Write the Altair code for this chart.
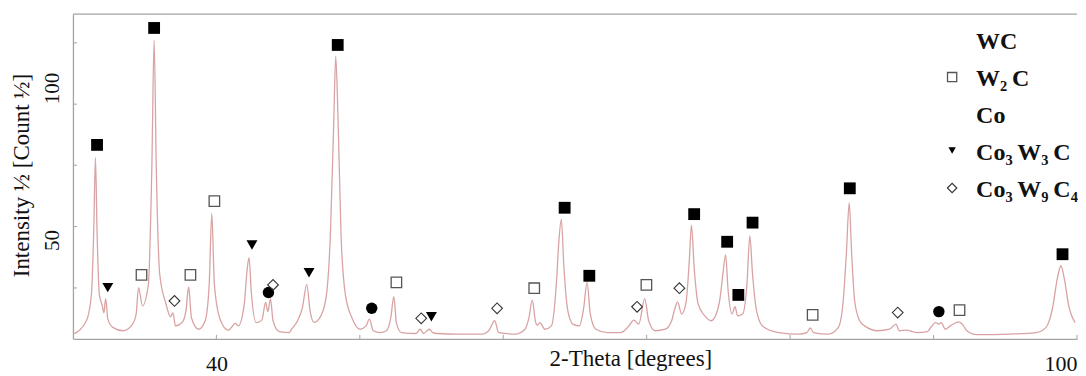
import altair as alt
import pandas as pd

# ---------------- data ----------------
two_theta = [30.02, 30.94, 31.29, 31.45, 31.57, 31.68, 31.84, 32.05, 32.16, 32.28,
             32.43, 32.78, 33.47, 34.16, 34.41, 34.57, 34.85, 35.26, 35.50, 35.66,
             35.81, 36.05, 36.46, 36.81, 36.97, 37.15, 37.61, 37.88, 38.07, 38.26,
             38.76, 39.22, 39.50, 39.68, 39.86, 40.26, 40.83, 41.33, 41.52, 41.93,
             42.16, 42.28, 42.43, 42.78, 43.17, 43.43, 43.59, 43.77, 43.95, 44.39,
             45.08, 45.24, 45.66, 46.00, 46.30, 46.53, 46.81, 47.15, 47.61, 47.95,
             48.19, 48.32, 48.48, 48.69, 48.99, 49.45, 50.02, 50.43, 50.67, 50.94,
             51.40, 51.86, 52.16, 52.37, 52.55, 52.90, 53.93, 54.21, 54.43, 54.85,
             55.08, 55.38, 56.92, 58.53, 58.99, 59.40, 59.68, 60.83, 61.52, 61.79,
             62.02, 62.26, 62.38, 62.55, 62.90, 63.36, 63.70, 63.88, 64.05, 64.23,
             64.50, 64.85, 65.31, 65.61, 65.84, 66.07, 66.46, 67.26, 68.19, 68.76,
             69.10, 69.45, 69.86, 70.14, 70.60, 71.29, 71.74, 71.98, 72.16, 72.43,
             72.74, 72.97, 73.12, 73.31, 73.59, 74.05, 74.50, 74.85, 75.12, 75.31,
             75.50, 75.68, 75.95, 76.16, 76.34, 76.69, 76.99, 77.19, 77.38, 77.66,
             78.07, 79.22, 80.60, 81.17, 81.40, 81.63, 82.67, 83.36, 83.70, 83.93,
             84.12, 84.28, 84.50, 84.85, 85.19, 86.12, 86.92, 87.38, 87.61, 88.07,
             88.88, 89.57, 89.84, 90.14, 90.37, 90.53, 90.83, 91.17, 91.57, 91.74,
             92.09, 92.32, 93.01, 95.31, 97.15, 97.84, 98.30, 98.64, 98.88, 99.10,
             99.45, 99.86]
intensity = [19.0, 23.4, 32.1, 53.0, 77.1, 53.0, 32.1, 28.3, 26.0, 30.7,
             24.0, 21.2, 20.1, 22.3, 25.7, 34.3, 28.3, 35.4, 73.8, 115.7,
             73.8, 38.7, 29.4, 24.7, 26.0, 21.7, 22.8, 26.7, 34.5, 24.4,
             20.6, 23.4, 35.4, 58.7, 35.4, 23.9, 20.3, 22.5, 21.7, 28.3,
             40.9, 44.2, 33.2, 22.8, 23.6, 29.4, 26.4, 30.7, 23.4, 19.8,
             19.5, 20.6, 23.4, 27.7, 35.4, 26.7, 22.8, 23.9, 29.9, 51.9,
             90.2, 110.5, 90.2, 51.9, 32.1, 24.4, 20.6, 21.7, 23.9, 20.1,
             19.5, 20.1, 24.4, 31.3, 22.8, 19.5, 19.2, 20.6, 19.2, 20.6,
             19.5, 19.2, 19.0, 19.0, 20.1, 23.4, 19.5, 19.0, 20.6, 24.4,
             30.2, 22.8, 21.9, 22.8, 20.6, 21.7, 35.4, 49.7, 56.8, 40.9,
             26.7, 22.3, 21.7, 27.7, 36.0, 25.6, 20.6, 19.5, 19.5, 21.7,
             23.6, 22.3, 30.7, 23.4, 20.1, 20.6, 23.4, 27.7, 29.6, 25.6,
             29.4, 43.1, 54.9, 40.9, 28.9, 25.0, 23.4, 25.6, 31.0, 38.7,
             45.1, 33.2, 25.6, 28.0, 25.0, 25.6, 35.4, 51.3, 38.7, 26.7,
             21.7, 19.5, 19.0, 19.5, 21.0, 19.5, 19.0, 21.2, 29.9, 46.4,
             62.3, 46.4, 29.9, 23.4, 21.7, 20.1, 20.6, 22.3, 20.1, 20.3,
             19.5, 19.8, 21.4, 22.8, 22.3, 22.8, 20.6, 21.7, 22.8, 23.0,
             21.7, 20.1, 18.8, 19.0, 19.5, 21.2, 27.7, 37.6, 41.5, 37.6,
             27.7, 22.8]

# peak markers of each phase (2-theta, intensity)
wc_x = [31.68, 35.66, 48.46, 64.28, 66.00, 73.31, 75.61, 76.39, 77.38, 84.16, 98.99]
wc_y = [81.3, 119.8, 114.2, 60.6, 38.2, 58.5, 49.4, 31.9, 55.7, 67.0, 45.3]
w2c_x = [34.78, 38.19, 39.86, 52.55, 62.16, 69.98, 81.57, 91.81]
w2c_y = [38.5, 38.5, 62.8, 36.0, 34.1, 35.2, 25.3, 26.9]
co_x = [43.63, 50.83, 90.37]
co_y = [32.7, 27.5, 26.4]
co3w3c_x = [32.43, 42.48, 46.46, 54.99]
co3w3c_y = [34.3, 48.3, 39.2, 24.7]
co3w9c4_x = [37.08, 43.95, 54.28, 59.57, 69.33, 72.28, 87.50]
co3w9c4_y = [29.9, 35.2, 24.2, 27.5, 28.0, 34.1, 26.1]

legend_labels = ["WC", "W\u2082\u2009C", "Co", "Co\u2083\u2009W\u2083\u2009C", "Co\u2083\u2009W\u2089\u2009C\u2084"]

x_tick_values = [40, 50, 60, 70, 80, 90, 100]
x_label_values = [40, 100]
y_tick_values = [34.2, 54.4, 74.6, 94.7, 114.9]
y_label_values = [50, 100]

x_title = "2-Theta [degrees]"
y_title = "Intensity \u00bd [Count \u00bd]"

# ---------------- chart ----------------
W, H = 1005, 325
FONT = "Liberation Serif"
AXIS_GRAY = "#a3a3a3"
TEXT = "#111111"
LINE = "#d9a3a3"

xs = alt.Scale(domain=[30, 100], nice=False, zero=False)
ys = alt.Scale(domain=[17.43, 124.34], nice=False, zero=False)

x_axis = alt.Axis(
    values=x_label_values, ticks=False, grid=False,
    domainColor=AXIS_GRAY, domainWidth=1.3,
    labelFont=FONT, labelFontSize=22, labelColor=TEXT,
    labelBaseline="alphabetic", labelPadding=32,
    labelOverlap=False, labelFlush=True, labelFlushOffset=0,
    title=x_title, titleFont=FONT, titleFontSize=23, titleFontWeight="normal",
    titleColor=TEXT, titleX=558, titleY=26.5, titleAlign="center",
    titleBaseline="alphabetic")
y_axis = alt.Axis(
    values=y_label_values, ticks=False, grid=False,
    domainColor=AXIS_GRAY, domainWidth=1.3,
    labelFont=FONT, labelFontSize=21, labelColor=TEXT,
    labelAngle=270, labelAlign="center", labelBaseline="alphabetic",
    labelPadding=14, labelOverlap=False, labelFlush=False,
    title=y_title, titleFont=FONT, titleFontSize=23, titleFontWeight="normal",
    titleColor=TEXT, titleAngle=270, titleX=-44, titleY=161,
    titleAlign="center", titleBaseline="alphabetic")

X = alt.X("two_theta:Q", scale=xs, axis=x_axis, title=x_title)
Y = alt.Y("intensity:Q", scale=ys, axis=y_axis, title=y_title)

curve = pd.DataFrame({"two_theta": two_theta, "intensity": intensity})
line = alt.Chart(curve).mark_line(
    color=LINE, strokeWidth=1.3, interpolate="monotone", clip=True
).encode(x=X, y=Y)

styles = {
    "WC": dict(shape="square", filled=True, color="#000000", size=140),
    "W2C": dict(shape="square", filled=False, color="#555555", strokeWidth=1.3, size=110),
    "Co": dict(shape="circle", filled=True, color="#000000", size=130),
    "Co3W3C": dict(shape="triangle-down", filled=True, color="#000000", size=120),
    "Co3W9C4": dict(shape="diamond", filled=False, color="#333333", strokeWidth=1.1, size=115),
}
phase_data = {
    "WC": (wc_x, wc_y), "W2C": (w2c_x, w2c_y), "Co": (co_x, co_y),
    "Co3W3C": (co3w3c_x, co3w3c_y), "Co3W9C4": (co3w9c4_x, co3w9c4_y),
}

marker_layers = []
for name, (px, py) in phase_data.items():
    df = pd.DataFrame({"two_theta": px, "intensity": py})
    marker_layers.append(
        alt.Chart(df).mark_point(opacity=1, **styles[name]).encode(x=X, y=Y))

xticks = alt.Chart(pd.DataFrame({"two_theta": x_tick_values})).mark_rule(
    color=AXIS_GRAY, strokeWidth=1).encode(
    x=X, y=alt.value(H - 4), y2=alt.value(H))
yticks = alt.Chart(pd.DataFrame({"intensity": y_tick_values})).mark_rule(
    color=AXIS_GRAY, strokeWidth=1).encode(
    y=Y, x=alt.value(0), x2=alt.value(4))
top_border = alt.Chart(pd.DataFrame({"k": [0]})).mark_rule(
    color=AXIS_GRAY, strokeWidth=1.3).encode(
    x=alt.value(0), x2=alt.value(W), y=alt.value(0))

# legend (inside the plot, top right)
LEG_TEXT_X, LEG_SYM_X = 904, 880
leg_baselines = [35, 72, 109, 145.5, 183]
legend_layers = []
for label, yb in zip(legend_labels, leg_baselines):
    legend_layers.append(
        alt.Chart(pd.DataFrame({"k": [0]})).mark_text(
            align="left", baseline="alphabetic", font=FONT, fontSize=24,
            fontWeight="bold", color=TEXT, text=label).encode(
            x=alt.value(LEG_TEXT_X), y=alt.value(yb)))
for name, yb, size in [("W2C", 72, 85), ("Co3W3C", 145.5, 55), ("Co3W9C4", 183, 90)]:
    st = dict(styles[name])
    st["size"] = size
    legend_layers.append(
        alt.Chart(pd.DataFrame({"k": [0]})).mark_point(opacity=1, **st).encode(
            x=alt.value(LEG_SYM_X), y=alt.value(yb - 9)))

chart = alt.layer(
    line, xticks, yticks, top_border, *marker_layers, *legend_layers
).properties(
    width=W, height=H,
    padding={"left": 3, "top": 5, "right": 0, "bottom": 0},
    background="white",
).configure_view(stroke=None)

chart.save("out.html", embed_options={"renderer": "svg", "actions": False})
